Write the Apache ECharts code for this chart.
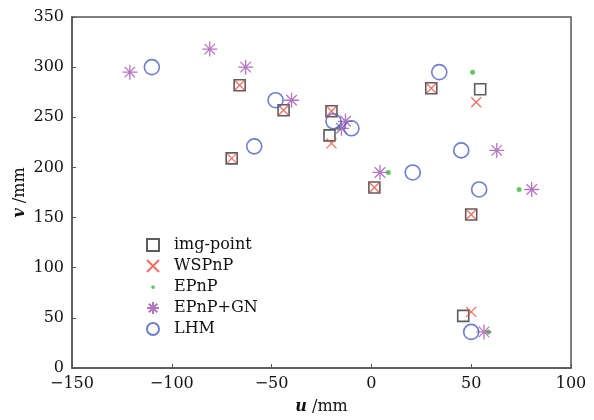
<!DOCTYPE html>
<html><head><meta charset="utf-8">
<script src="https://cdn.jsdelivr.net/npm/echarts@6/dist/echarts.min.js"></script>
<style>html,body{margin:0;padding:0;background:#fff}#c{width:594px;height:420px}</style>
</head><body><div id="c"></div>
<script>
var xTicks = [-150, -100, -50, 0, 50, 100];
var yTicks = [0, 50, 100, 150, 200, 250, 300, 350];
var imgPoint = [[-66,282],[-44,257],[-20,256],[-21,232],[-70,209],[1.5,180],[30,279],[54.5,278],[50,153],[46,52]];
var wspnp = [[-66,282],[-44,257],[-20,256],[-20,224],[-70,209],[1.5,180],[30,279],[52.5,265],[50,153],[50,56]];
var epnp = [[50.7,295],[8.5,195],[74,178],[58.6,36],[-16.5,239]];
var epnpGN = [[-121,295],[-81,318],[-63,300],[-40,267],[-13,246],[-15,239],[4.3,195],[62.8,217],[80.3,178],[56.4,36]];
var lhm = [[-110,300],[-48,267],[-58.7,221],[34,295],[-19,246],[-10,239],[20.7,195],[45,217],[54,178],[50,36]];
var names = ['img-point','WSPnP','EPnP','EPnP+GN','LHM'];

var FONT = 'DejaVu Serif';
var TXT = '#111';
var xPath = 'path://M0,0L10,10M10,0L0,10';
var starPath = 'path://M0,5L10,5M5,0L5,10M1.5,1.5L8.5,8.5M8.5,1.5L1.5,8.5';
var dotPath = 'path://M0,0M16,16M5.5,8A2.5,2.5 0 1 0 10.5,8A2.5,2.5 0 1 0 5.5,8Z';
function fmt(v){ return String(v).replace('-', '\u2212'); }

var chart = echarts.init(document.getElementById('c'));
chart.setOption({
  animation: false,
  textStyle: {fontFamily: FONT},
  grid: {left: 72, right: 23, top: 17, bottom: 52, show: true, borderColor: '#555', borderWidth: 1.5, backgroundColor: 'transparent'},
  legend: {
    orient: 'vertical', left: 141, top: 231, itemWidth: 12, itemHeight: 12, itemGap: 3,
    data: names,
    textStyle: {fontFamily: FONT, fontSize: 16, lineHeight: 18, color: TXT, padding: [0,0,0,10]}
  },
  xAxis: {
    type: 'value', min: xTicks[0], max: xTicks[xTicks.length-1], interval: 50,
    axisLine: {onZero: false, lineStyle: {color: '#555', width: 1.5}},
    axisTick: {inside: true, length: 4, lineStyle: {color: '#555'}},
    splitLine: {show: false},
    axisLabel: {fontFamily: FONT, fontSize: 16, color: TXT, margin: 8, formatter: fmt},
    name: '{i|u} /mm', nameLocation: 'middle', nameGap: 31,
    nameTextStyle: {fontFamily: FONT, fontSize: 16, color: TXT, rich: {i: {fontStyle: 'italic', fontFamily: FONT, fontSize: 16, color: TXT, fontWeight: 'bold'}}}
  },
  yAxis: {
    type: 'value', min: yTicks[0], max: yTicks[yTicks.length-1], interval: 50,
    axisLine: {onZero: false, lineStyle: {color: '#555', width: 1.5}},
    axisTick: {inside: true, length: 4, lineStyle: {color: '#555'}},
    splitLine: {show: false},
    axisLabel: {fontFamily: FONT, fontSize: 16, color: TXT, margin: 8, formatter: fmt},
    name: '{i|v} /mm', nameLocation: 'middle', nameGap: 44, nameMoveOverlap: false,
    nameTextStyle: {fontFamily: FONT, fontSize: 16, color: TXT, rich: {i: {fontStyle: 'italic', fontFamily: FONT, fontSize: 16, color: TXT, fontWeight: 'bold'}}}
  },
  series: [
    {name: names[2], type: 'scatter', data: epnp, symbol: dotPath, symbolSize: 16, z: 1,
     itemStyle: {color: '#3cb83c'}},
    {name: names[0], type: 'scatter', data: imgPoint, symbol: 'rect', symbolSize: 11, z: 2,
     itemStyle: {color: 'transparent', borderColor: '#333', borderWidth: 1.6}},
    {name: names[1], type: 'scatter', data: wspnp, symbol: xPath, symbolSize: 10, z: 3,
     itemStyle: {color: 'transparent', borderColor: '#f04a3a', borderWidth: 1.3}},
    {name: names[3], type: 'scatter', data: epnpGN, symbol: starPath, symbolSize: 15, z: 4,
     itemStyle: {color: 'transparent', borderColor: '#a253b3', borderWidth: 1.3}},
    {name: names[4], type: 'scatter', data: lhm, symbol: 'circle', symbolSize: 15, z: 5,
     itemStyle: {color: 'transparent', borderColor: '#4a5ec4', borderWidth: 1.6}}
  ].map(function(s){ s.emphasis = {disabled: true}; return s; })
});
</script>
</body></html>
